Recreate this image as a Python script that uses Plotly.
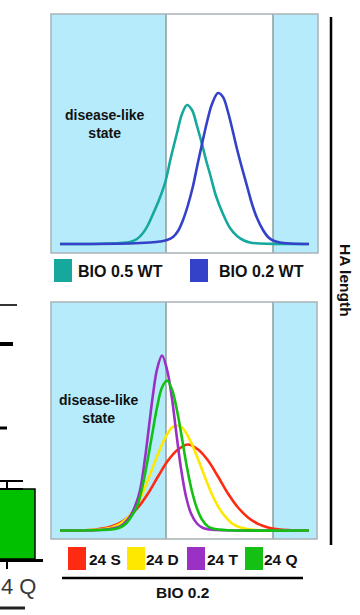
import plotly.graph_objects as go

# ---------------- data (arbitrary HA-length units; heights = relative frequency) -------------
top_names = ["BIO 0.5 WT", "BIO 0.2 WT"]
top_colors = ["#16a89d", "#3441c9"]

teal_x = [9, 49, 69, 79, 86, 92, 97, 102, 108, 114, 120, 126, 131, 136, 141, 146, 151, 155, 159,
          165, 172, 179, 186, 193, 199, 209, 229, 258]
teal_y = [0, 0.3, 1, 2, 5, 11, 19, 30, 44, 61, 87, 111, 130, 139, 134, 118, 100, 84, 70,
          48, 30, 16, 8, 3.5, 1.5, 0.5, 0.1, 0]

blue_x = [9, 79, 99, 109, 116, 122, 127, 132, 137, 142, 146, 151, 156, 161, 167, 172, 177, 182,
          186, 191, 196, 201, 206, 212, 217, 222, 229, 239, 258]
blue_y = [0, 0.5, 1.5, 2.5, 4, 7, 13, 24, 39, 58, 77, 100, 122, 140, 151, 147, 132, 112,
          95, 76, 58, 40, 26, 14, 7, 3.5, 1.5, 0.5, 0]

bot_names = ["24 S", "24 D", "24 T", "24 Q"]
bot_colors = ["#ff2a12", "#ffe800", "#9a30c4", "#14c014"]

red_x = [9, 39, 47, 57, 67, 77, 87, 97, 107, 117, 127, 137, 147, 157, 167, 177, 187, 197, 207,
         217, 227, 237, 258]
red_y = [0, 0.5, 1.3, 3.1, 6.7, 13, 23, 37, 54, 70, 81, 86, 81, 70, 54, 37, 23, 13, 6.7,
         3.1, 1.3, 0.5, 0]

yellow_x = [9, 49, 59, 66, 71, 76, 81, 86, 91, 96, 101, 106, 111, 116, 121, 126, 131, 136, 141,
            146, 151, 156, 161, 166, 171, 176, 181, 186, 196, 206, 219, 258]
yellow_y = [0, 1, 2.5, 5, 8, 12, 18, 26, 36, 48, 61, 74, 86, 96, 103, 105, 103, 96, 86,
            74, 61, 48, 36, 26, 18, 12, 7, 4.3, 1.5, 0.4, 0, 0]

purple_x = [9, 49, 59, 69, 74, 79, 84, 89, 94, 98, 102, 106, 111, 116, 121, 125, 130, 135, 140,
            146, 152, 159, 174, 258]
purple_y = [0, 0.5, 1.5, 4, 8, 14, 24, 40, 72, 104, 136, 161, 175, 161, 132, 100, 62, 34, 17,
            7, 2.5, 1, 0.2, 0]

green_x = [9, 49, 64, 71, 76, 81, 86, 91, 96, 101, 106, 111, 116, 121, 126, 131, 136, 141, 146,
           151, 157, 164, 174, 189, 258]
green_y = [0, 0.5, 1.5, 4, 8, 15, 24, 42, 67, 95, 123, 143, 150, 141, 120, 92, 63, 39, 22,
           11, 4, 1.5, 0.5, 0, 0]

# zones (same units as curves)
zone_left_end = 115
zone_right_start = 222
zone_label = "disease-like<br>state"

# fragment of neighbouring bar chart (label partly cut off in the source)
bar_categories = ["24 Q"]
bar_values = [27]
bar_errors = [3.1]
bar_visible_label = "4 Q"

# ---------------- figure -------------
W, H = 360, 615
FONT = "Arial, Liberation Sans, sans-serif"
SKY = "#b5ebfb"
EDGE = "#a9b3b7"
ZONE_LINE = "#8e9ca1"


def pxx(x):
    return x / W


def pxy(y):
    return 1 - y / H


def note(text, x, y, size, xanchor="center", color="#111", angle=0):
    return dict(text=text, x=pxx(x), y=pxy(y), xref="paper", yref="paper", xanchor=xanchor,
                yanchor="middle", showarrow=False, textangle=angle, align="center",
                font=dict(family=FONT, size=size, color=color))


fig = go.Figure()

top_series = [(teal_x, teal_y), (blue_x, blue_y)]
for (xs, ys), name, col in zip(top_series, top_names, top_colors):
    fig.add_trace(go.Scatter(x=xs, y=ys, mode="lines", name=name, line=dict(color=col, width=2.6, shape="spline"),
                             xaxis="x", yaxis="y", showlegend=False, hoverinfo="skip"))

bot_series = [(red_x, red_y), (yellow_x, yellow_y), (purple_x, purple_y), (green_x, green_y)]
for (xs, ys), name, col in zip(bot_series, bot_names, bot_colors):
    fig.add_trace(go.Scatter(x=xs, y=ys, mode="lines", name=name, line=dict(color=col, width=2.6, shape="spline"),
                             xaxis="x2", yaxis="y2", showlegend=False, hoverinfo="skip"))

fig.add_trace(go.Bar(x=bar_categories, y=bar_values, width=1,
                     marker=dict(color="#00c000", line=dict(color="black", width=1.5)),
                     error_y=dict(type="data", symmetric=False, array=bar_errors, arrayminus=[0],
                                  color="black", thickness=2, width=16),
                     xaxis="x3", yaxis="y3", showlegend=False, hoverinfo="skip"))

shapes = []
annotations = []
for xa, ya, xmax in (("x", "y", 267), ("x2", "y2", 266)):
    # sky-blue zones
    shapes.append(dict(type="rect", xref=xa, yref=f"{ya} domain", x0=0, x1=zone_left_end, y0=0, y1=1,
                       fillcolor=SKY, line=dict(width=0), layer="below"))
    shapes.append(dict(type="rect", xref=xa, yref=f"{ya} domain", x0=zone_right_start, x1=xmax, y0=0, y1=1,
                       fillcolor=SKY, line=dict(width=0), layer="below"))
    for xv in (zone_left_end, zone_right_start):
        shapes.append(dict(type="line", xref=xa, yref=f"{ya} domain", x0=xv, x1=xv, y0=0, y1=1,
                           line=dict(color=ZONE_LINE, width=1.5), layer="below"))
    shapes.append(dict(type="rect", xref=f"{xa} domain", yref=f"{ya} domain", x0=0, x1=1, y0=0, y1=1,
                       line=dict(color=EDGE, width=1.5), layer="above"))

# disease-like labels
annotations.append(note(f"<b>{zone_label}</b>", 105, 124, 14))
annotations.append(note(f"<b>{zone_label}</b>", 99, 409, 14))

# top legend
for (sx, tx), name, col in zip([(54, 78), (190, 219)], top_names, top_colors):
    shapes.append(dict(type="rect", xref="paper", yref="paper", x0=pxx(sx), x1=pxx(sx + 18),
                       y0=pxy(282), y1=pxy(259), fillcolor=col, line=dict(width=0)))
    annotations.append(note(f"<b>{name}</b>", tx - 2, 271, 16, xanchor="left"))

# bottom legend
for (sx, tx), name, col in zip([(68, 89), (127, 146), (187, 207), (245, 264)], bot_names, bot_colors):
    shapes.append(dict(type="rect", xref="paper", yref="paper", x0=pxx(sx), x1=pxx(sx + 18),
                       y0=pxy(570), y1=pxy(547), fillcolor=col, line=dict(width=0)))
    annotations.append(note(f"<b>{name}</b>", tx - 2, 559, 15.5, xanchor="left"))

# underline + BIO 0.2
shapes.append(dict(type="line", xref="paper", yref="paper", x0=pxx(62), x1=pxx(303), y0=pxy(578), y1=pxy(578),
                   line=dict(color="black", width=2.5)))
annotations.append(note("<b>BIO 0.2</b>", 182, 592, 15.5))

# right bracket + HA length
shapes.append(dict(type="line", xref="paper", yref="paper", x0=pxx(331), x1=pxx(331), y0=pxy(17), y1=pxy(545),
                   line=dict(color="black", width=2.5)))
annotations.append(note("<b>HA length</b>", 346, 280, 15.5, angle=90))

# visible part of the neighbouring bar label
annotations.append(note(bar_visible_label, -1, 586, 22, xanchor="left", color="#383838"))

# fragment marks of neighbouring panel
for (y, x1, w, c) in [(305, 17, 2, "#333"), (344, 13, 4, "black"), (428, 7, 3, "black"), (608, 25, 3, "#222")]:
    shapes.append(dict(type="line", xref="paper", yref="paper", x0=0, x1=pxx(x1), y0=pxy(y), y1=pxy(y),
                       line=dict(color=c, width=w)))

fig.update_layout(
    width=W, height=H,
    margin=dict(l=0, r=0, t=0, b=0, autoexpand=False),
    paper_bgcolor="white", plot_bgcolor="white",
    xaxis=dict(domain=[51 / W, 318 / W], range=[0, 267], visible=False, automargin=False),
    yaxis=dict(domain=[pxy(253), pxy(14)], range=[-9, 230], visible=False, automargin=False),
    xaxis2=dict(domain=[51 / W, 317 / W], range=[0, 266], visible=False, anchor="y2", automargin=False),
    yaxis2=dict(domain=[pxy(539), pxy(302)], range=[-8.5, 228.5], visible=False, anchor="x2", automargin=False),
    xaxis3=dict(domain=[0, 43 / W], range=[-0.125, 0.643], anchor="y3", showline=True, linecolor="black",
                linewidth=2.5, ticks="outside", ticklen=7, tickwidth=2, tickcolor="black", automargin=False,
                showticklabels=False, showgrid=False, zeroline=False),
    yaxis3=dict(domain=[pxy(559), pxy(300)], range=[0, 100], anchor="x3", visible=False, automargin=False),
    shapes=shapes,
    annotations=annotations,
    showlegend=False,
)

fig.write_html("out.html", config={"displayModeBar": False},
               post_script="document.body.style.margin='0';document.body.style.padding='0';")
